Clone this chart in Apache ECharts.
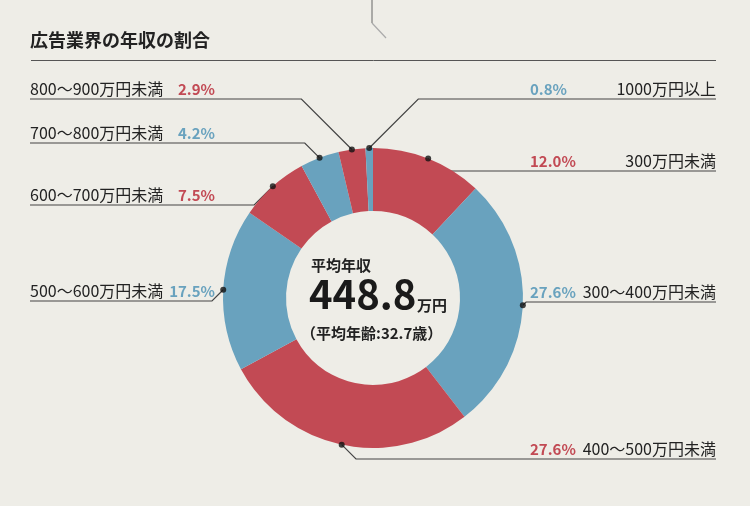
<!DOCTYPE html>
<html>
<head>
<meta charset="utf-8">
<script src="https://cdn.jsdelivr.net/npm/echarts@6/dist/echarts.min.js"></script>
<style>
  html, body { margin: 0; padding: 0; background: #eeede7; }
  #chart { width: 750px; height: 506px; }
</style>
</head>
<body>
<div id="chart"></div>
<script>
// data
const titleText = '広告業界の年収の割合';
const categories = ['300万円未満', '300～400万円未満', '400～500万円未満', '500～600万円未満',
  '600～700万円未満', '700～800万円未満', '800～900万円未満', '1000万円以上'];
const shares = [12.0, 27.6, 27.6, 17.5, 7.5, 4.2, 2.9, 0.8];
const avgIncome = 448.8;
const avgAge = 32.7;

// layout only
const RED = '#c24a54', BLUE = '#69a2be';
const sliceColors = [RED, BLUE, RED, BLUE, RED, BLUE, RED, BLUE];
const labelSide = ['right', 'right', 'right', 'left', 'left', 'left', 'left', 'right'];
const lineY = [171, 302, 459, 301, 205, 143, 99, 99];
const FONT = '"Noto Sans CJK JP", "Noto Sans", sans-serif';
const CX = 373, CY = 298, R0 = 87, R1 = 150;

const chart = echarts.init(document.getElementById('chart'));

const total = shares.reduce((a, b) => a + b, 0);
let acc = 0;
const dotData = shares.map(v => {
  const mid = acc + v / 2;
  acc += v;
  return [1, mid];
});

function pct(v) { return v.toFixed(1) + '%'; }

chart.setOption({
  backgroundColor: '#eeede7',
  textStyle: { fontFamily: FONT },
  color: sliceColors,
  polar: { center: [CX, CY], radius: R1 },
  angleAxis: {
    type: 'value', min: 0, max: total, startAngle: 90, clockwise: true,
    axisLine: { show: false }, axisTick: { show: false },
    axisLabel: { show: false }, splitLine: { show: false }
  },
  radiusAxis: {
    type: 'value', min: 0, max: 1,
    axisLine: { show: false }, axisTick: { show: false },
    axisLabel: { show: false }, splitLine: { show: false }
  },
  graphic: [
    { type: 'text', left: 30, top: 31,
      style: { text: titleText, font: 'bold 18px ' + FONT, fill: '#222' } },
    { type: 'line', shape: { x1: 31, y1: 60.5, x2: 716, y2: 60.5 },
      style: { stroke: '#555', lineWidth: 1 } },
    { type: 'polyline', shape: { points: [[372, 0], [372, 23]] },
      style: { stroke: '#666', lineWidth: 1 } },
    { type: 'polyline', shape: { points: [[372, 23], [386, 38]] },
      style: { stroke: '#aaa', lineWidth: 1.2 } },
    { type: 'text', x: 311, y: 265, z: 10,
      style: { text: '平均年収', font: 'bold 15px ' + FONT, fill: '#222', verticalAlign: 'middle' } },
    { type: 'text', x: 309, y: 314, z: 10,
      style: { text: avgIncome.toFixed(1), font: 'bold 40px ' + FONT, fill: '#1a1a1a', verticalAlign: 'bottom' } },
    { type: 'text', x: 417, y: 313, z: 10,
      style: { text: '万円', font: 'bold 15px ' + FONT, fill: '#222', verticalAlign: 'bottom' } },
    { type: 'text', x: 301, y: 333, z: 10,
      style: { text: '（平均年齢:' + avgAge.toFixed(1) + '歳）', font: 'bold 15px ' + FONT, fill: '#222', verticalAlign: 'middle' } }
  ],
  series: [
    {
      type: 'pie',
      center: [CX, CY],
      radius: [R0, R1],
      startAngle: 90,
      clockwise: true,
      avoidLabelOverlap: false,
      silent: true,
      itemStyle: { borderWidth: 0 },
      data: categories.map((name, i) => ({ name: name, value: shares[i] })),
      label: {
        show: true,
        position: 'outside',
        formatter: function (p) {
          const i = p.dataIndex;
          const c = sliceColors[i] === RED ? 'R' : 'B';
          if (labelSide[i] === 'left') {
            return '{nl|' + p.name + '}{pl' + c + '|' + pct(shares[i]) + '}';
          }
          return '{pr' + c + '|' + pct(shares[i]) + '}{nr|' + p.name + '}';
        },
        rich: {
          nl: { width: 140, align: 'left', fontSize: 16, color: '#222', lineHeight: 18 },
          nr: { width: 136, align: 'right', fontSize: 16, color: '#222', lineHeight: 18 },
          plR: { width: 45, align: 'right', fontSize: 15, fontWeight: 'bold', color: RED, lineHeight: 18 },
          plB: { width: 45, align: 'right', fontSize: 15, fontWeight: 'bold', color: BLUE, lineHeight: 18 },
          prR: { width: 50, align: 'left', fontSize: 15, fontWeight: 'bold', color: RED, lineHeight: 18 },
          prB: { width: 50, align: 'left', fontSize: 15, fontWeight: 'bold', color: BLUE, lineHeight: 18 }
        }
      },
      labelLine: {
        show: true, length: 10, length2: 10,
        lineStyle: { color: '#444', width: 1.2 }
      },
      labelLayout: function (p) {
        const i = p.dataIndex;
        const right = labelSide[i] === 'right';
        const start = p.labelLinePoints[0];
        const y = lineY[i];
        const edge = right ? chart.getWidth() - 34 : 30;
        const elbowX = start[0] + (right ? 1 : -1) * Math.abs(y - start[1]);
        return {
          x: edge,
          y: y - 1,
          align: right ? 'right' : 'left',
          verticalAlign: 'bottom',
          labelLinePoints: [start, [elbowX, y], [edge, y]]
        };
      }
    },
    {
      type: 'scatter',
      coordinateSystem: 'polar',
      silent: true,
      symbol: 'circle',
      symbolSize: 6,
      z: 5,
      itemStyle: { color: '#111' },
      data: dotData
    }
  ]
});
</script>
</body>
</html>
